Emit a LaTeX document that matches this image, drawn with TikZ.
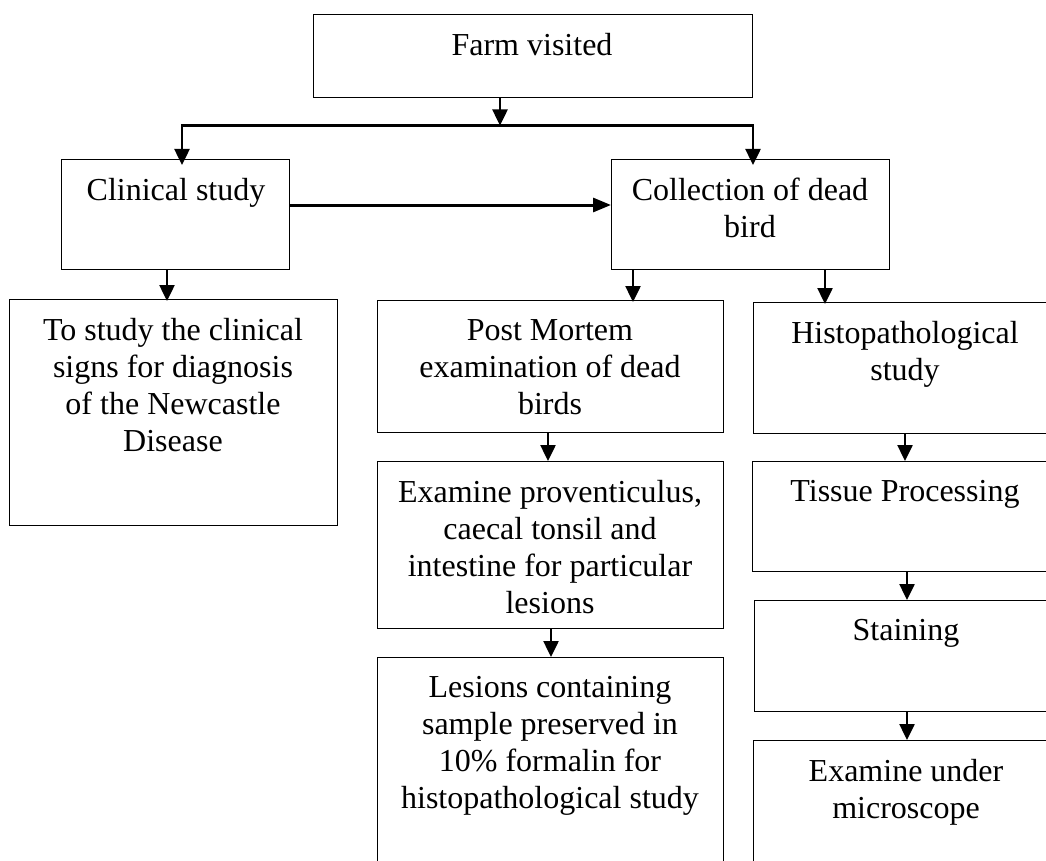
\documentclass[tikz,border=0pt]{standalone}
\usepackage{fontspec}
\setmainfont{Liberation Serif}
\usetikzlibrary{arrows.meta}
\tikzset{
  boxnode/.style={draw, line width=1.3pt, rectangle, inner sep=0pt, anchor=north west},
  txt/.style={anchor=north, inner sep=0pt, align=center, font=\fontsize{32}{37}\selectfont},
  arr/.style={line width=2.5pt, -{Triangle[length=16pt,width=15pt]}},
  bigarr/.style={line width=3pt, -{Triangle[length=18pt,width=14pt]}},
  conn/.style={line width=2.5pt}
}
\newcommand{\mybox}[5]{%
  \node[boxnode, minimum width={#4-#2}, minimum height={#5-#3}] (#1) at (#2,#3) {};}
\begin{document}
\begin{tikzpicture}[x=1pt,y=-1pt]
\useasboundingbox (0,0) rectangle (1046,861);
\clip (0,0) rectangle (1046,861);
% boxes
\mybox{farm}{313}{14}{752}{97}
\mybox{clin}{61}{159}{289}{269}
\mybox{coll}{611}{159}{889}{269}
\mybox{study}{9}{299}{337}{525}
\mybox{pm}{377}{300}{723}{432}
\mybox{histo}{753}{302}{1057}{433}
\mybox{exam}{377}{461}{723}{628}
\mybox{tissue}{752}{461}{1058}{571}
\mybox{lesions}{377}{657}{723}{900}
\mybox{stain}{754}{600}{1058}{711}
\mybox{micro}{753}{740}{1058}{900}
% texts
\node[txt] (tfarm) at (532,33) {Farm visited};
\node[txt] (tclin) at (176,178) {Clinical study};
\node[txt] (tcoll) at (750,178) {Collection of dead\\bird};
\node[txt] (tstudy) at (173,318) {To study the clinical\\signs for diagnosis\\of the Newcastle\\Disease};
\node[txt] (tpm) at (550,319) {Post Mortem\\examination of dead\\birds};
\node[txt] (thisto) at (905,321) {Histopathological\\study};
\node[txt] (texam) at (550,480) {Examine proventiculus,\\caecal tonsil and\\intestine for particular\\lesions};
\node[txt] (ttissue) at (905,480) {Tissue Processing};
\node[txt] (tlesions) at (550,676) {Lesions containing\\sample preserved in\\10\% formalin for\\histopathological study};
\node[txt] (tstain) at (906,619) {Staining};
\node[txt] (tmicro) at (906,759) {Examine under\\microscope};
% connectors
\coordinate (barmid) at (500,125.5);
\coordinate (barL) at (182,125.5);
\coordinate (barR) at (753,125.5);
\draw[arr] (farm.south -| barmid) -- (barmid);
\draw[conn] ([xshift=-1.2pt]barL) -- ([xshift=1.2pt]barR);
\draw[arr] (barL) -- ([yshift=-6pt]clin.north -| barL);
\draw[arr] (barR) -- ([yshift=-6pt]coll.north -| barR);
\draw[bigarr] (clin.east |- 0,205) -- (coll.west |- 0,205);
\draw[arr] (clin.south -| 167,0) -- ([yshift=-2pt]study.north -| 167,0);
\draw[arr] (coll.south -| 633,0) -- ([yshift=-2pt]pm.north -| 633,0);
\draw[arr] (coll.south -| 825,0) -- ([yshift=-2pt]histo.north -| 825,0);
\draw[arr] (pm.south -| 548,0) -- (exam.north -| 548,0);
\draw[arr] (exam.south -| 551,0) -- (lesions.north -| 551,0);
\draw[arr] (histo.south -| 905,0) -- (tissue.north -| 905,0);
\draw[arr] (tissue.south -| 907,0) -- (stain.north -| 907,0);
\draw[arr] (stain.south -| 907,0) -- (micro.north -| 907,0);
\end{tikzpicture}
\end{document}
